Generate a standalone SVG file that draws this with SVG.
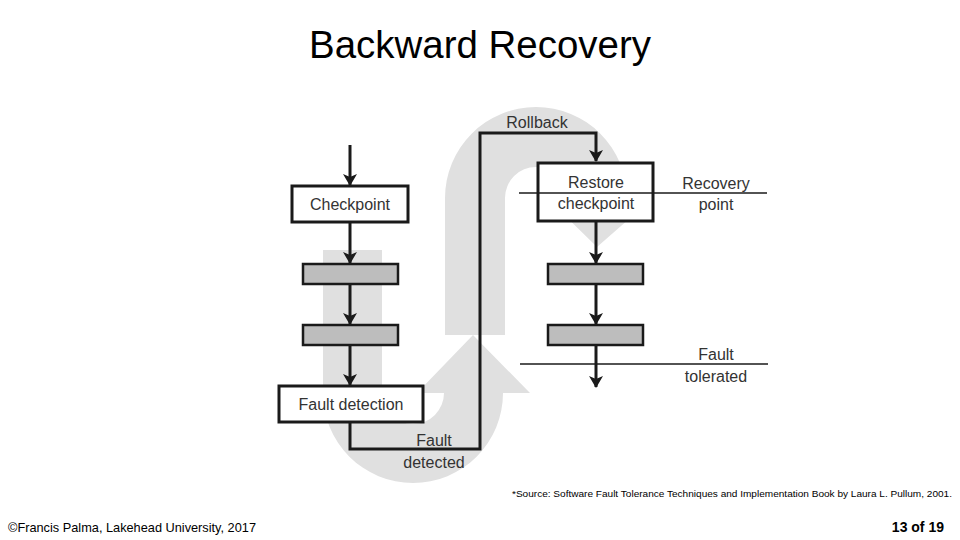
<svg xmlns="http://www.w3.org/2000/svg" width="960" height="540" viewBox="0 0 960 540">
<defs>
<marker id="ah" markerWidth="12" markerHeight="14" refX="11" refY="7" orient="auto" markerUnits="userSpaceOnUse">
<path d="M0,0 L12,7 L0,14 L3,7 Z" fill="#1a1a1a"/>
</marker>
</defs>
<style>
.bg{fill:#e0e0e0}
.box{fill:#fff;stroke:#1a1a1a;stroke-width:3}
.gbox{fill:#bdbdbd;stroke:#1a1a1a;stroke-width:2.5}
.ln{fill:none;stroke:#1a1a1a;stroke-width:3}
.thin{stroke:#1a1a1a;stroke-width:1.3}
.lbl{font-family:"Liberation Sans Narrow","Liberation Sans",sans-serif;font-size:16px;fill:#333;text-anchor:middle}
</style>
<rect width="960" height="540" fill="#fff"/>
<g id="background-arrows">
<path class="bg" d="M323,250 L382,250 L382,393 A30,30 0 0 0 444,393 L417,393 L473,335 L530,393 L503,393 A90,90 0 0 1 323,393 Z"/>
<path class="bg" d="M445,335 L445,198 A91,91 0 0 1 627,198 L653,198 L597,247 L547,198 L567,198 A31,31 0 0 0 505,198 L505,335 Z"/>
</g>
<text x="480" y="58" font-family="Liberation Sans Narrow,Liberation Sans,sans-serif" font-size="38" text-anchor="middle" textLength="342" lengthAdjust="spacingAndGlyphs" fill="#000">Backward Recovery</text>
<g id="connectors">
<line class="ln" x1="350" y1="145" x2="350" y2="185" marker-end="url(#ah)"/>
<line class="ln" x1="350" y1="222" x2="350" y2="263" marker-end="url(#ah)"/>
<line class="ln" x1="350" y1="284" x2="350" y2="324" marker-end="url(#ah)"/>
<line class="ln" x1="350" y1="345" x2="350" y2="385" marker-end="url(#ah)"/>
<path class="ln" d="M350,422 L350,449 L480,449 L480,133 L596,133 L596,161" marker-end="url(#ah)"/>
<line class="ln" x1="596" y1="221" x2="596" y2="263" marker-end="url(#ah)"/>
<line class="ln" x1="596" y1="284" x2="596" y2="324" marker-end="url(#ah)"/>
<line class="ln" x1="596" y1="345" x2="596" y2="387" marker-end="url(#ah)"/>
</g>
<g id="checkpoint"><rect class="box" x="292" y="186" width="116" height="36"/><text class="lbl" x="350" y="210">Checkpoint</text></g>
<g id="left-step1"><rect class="gbox" x="303" y="264" width="95" height="20"/></g>
<g id="left-step2"><rect class="gbox" x="303" y="325" width="95" height="20"/></g>
<g id="fault-detection"><rect class="box" x="279" y="386" width="144" height="36"/><text class="lbl" x="351" y="410">Fault detection</text></g>
<g id="restore-checkpoint"><rect class="box" x="538" y="163" width="115" height="58"/><text class="lbl" x="596" y="188">Restore</text><text class="lbl" x="596" y="209">checkpoint</text></g>
<g id="right-step1"><rect class="gbox" x="548" y="264" width="95" height="20"/></g>
<g id="right-step2"><rect class="gbox" x="548" y="325" width="95" height="20"/></g>
<g id="lines">
<line class="thin" x1="519" y1="193" x2="767" y2="193"/>
<line class="thin" x1="520" y1="364" x2="768" y2="364"/>
</g>
<text class="lbl" x="537" y="128">Rollback</text>
<text class="lbl" x="716" y="189">Recovery</text>
<text class="lbl" x="716" y="210">point</text>
<text class="lbl" x="716" y="360">Fault</text>
<text class="lbl" x="716" y="382">tolerated</text>
<text class="lbl" x="434" y="446">Fault</text>
<text class="lbl" x="434" y="468">detected</text>
<text x="952" y="497" font-family="Liberation Sans,sans-serif" font-size="9.5" text-anchor="end" textLength="440" lengthAdjust="spacingAndGlyphs" fill="#000">*Source: Software Fault Tolerance Techniques and Implementation Book by Laura L. Pullum, 2001.</text>
<text x="8" y="532" font-family="Liberation Sans,sans-serif" font-size="13" textLength="248" lengthAdjust="spacingAndGlyphs" fill="#000">©Francis Palma, Lakehead University, 2017</text>
<text x="944" y="532" font-family="Liberation Sans,sans-serif" font-size="14" font-weight="bold" text-anchor="end" fill="#000">13 of 19</text>
</svg>
